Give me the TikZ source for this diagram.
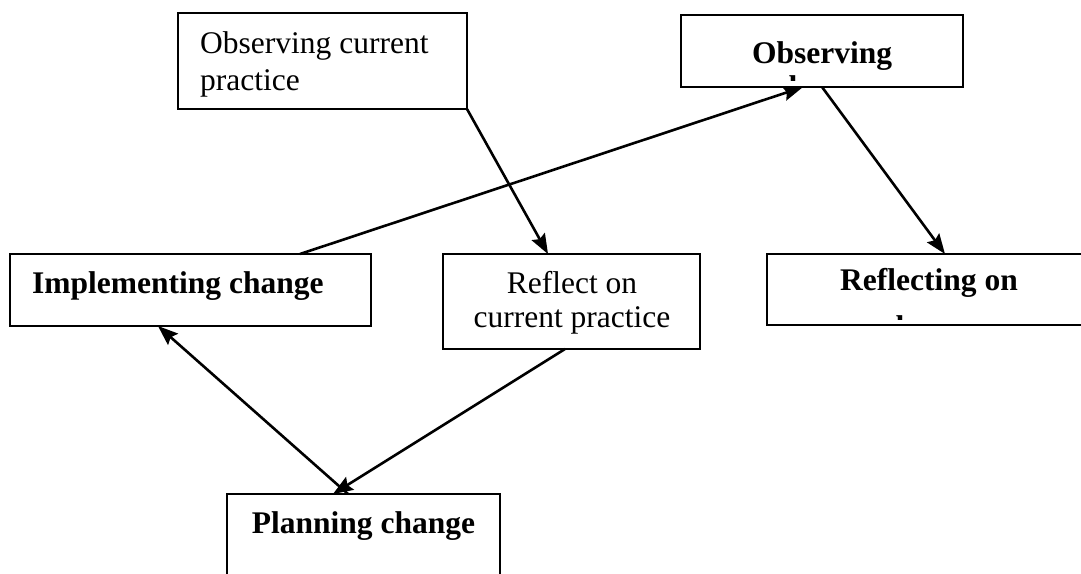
\documentclass[tikz,border=0pt]{standalone}
\usepackage{fontspec}
\setmainfont{Liberation Serif}
\usetikzlibrary{arrows.meta}
\begin{document}
\begin{tikzpicture}[x=1pt,y=-1pt,
  box/.style={draw,line width=2.8pt,inner sep=0pt,outer sep=0pt},
  txt/.style={inner sep=0pt,anchor=base,font=\fontsize{31.5}{37}\selectfont},
  btxt/.style={inner sep=0pt,anchor=base,font=\fontsize{31.5}{37}\selectfont\bfseries},
  conn/.style={line width=2.6pt,-{Stealth[length=20pt,width=15pt,inset=3pt]}}]
\useasboundingbox (0,0) rectangle (1081,573);
% boxes
\node[box,minimum width=289pt,minimum height=96pt] (ocp) at (322.5,61) {};
\node[box,minimum width=282pt,minimum height=72pt] (oc) at (822,51) {};
\node[box,minimum width=361pt,minimum height=72pt] (impl) at (190.5,290) {};
\node[box,minimum width=257pt,minimum height=95pt] (rcp) at (571.5,301.5) {};
\node[box,minimum width=324pt,minimum height=71pt] (rco) at (929,289.5) {};
\node[box,minimum width=273pt,minimum height=106pt] (pc) at (363.5,547) {};
% texts
\node[txt,anchor=base west] (t1a) at (200,53) {Observing current};
\node[txt,anchor=base west] (t1b) at (200,90) {practice};
\node[btxt] (t2a) at (822,63) {Observing};
\begin{scope}
  \clip (681,15) rectangle (963,80);
  \node[btxt] (t2b) at (822,97) {change};
\end{scope}
\node[btxt,anchor=base west] (t3) at (32,293) {Implementing change};
\node[txt] (t4a) at (572,293) {Reflect on};
\node[txt] (t4b) at (572,327) {current practice};
\node[btxt] (t5a) at (929,290) {Reflecting on};
\begin{scope}
  \clip (767,254) rectangle (1091,319);
  \node[btxt] (t5b) at (929,337) {change};
\end{scope}
\node[btxt] (t6) at (363.5,533) {Planning change};
% connectors
\draw[conn] (ocp.south east) -- ([xshift=-23.5pt]rcp.north);
\draw[conn] ([xshift=109.5pt]impl.north) -- ([xshift=-19pt]oc.south);
\draw[conn] (oc.south) -- ([xshift=16pt]rco.north);
\draw[conn] ([xshift=-6.5pt]rcp.south) -- ([xshift=-30.5pt]pc.north);
\draw[conn] ([xshift=-15.5pt]pc.north) -- ([xshift=-32.5pt]impl.south);
\end{tikzpicture}
\end{document}
